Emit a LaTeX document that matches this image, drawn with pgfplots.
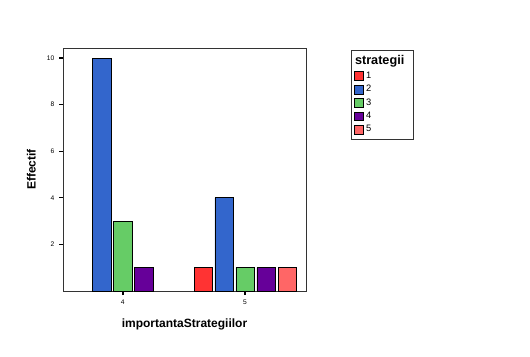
\documentclass[border=0pt]{standalone}
\usepackage{pgfplots}
\pgfplotsset{compat=1.18}
\usepackage{fontspec}
\setmainfont{Liberation Sans}
\definecolor{c1}{HTML}{FF3333}
\definecolor{c2}{HTML}{3366CC}
\definecolor{c3}{HTML}{66CC66}
\definecolor{c4}{HTML}{660099}
\definecolor{c5}{HTML}{FF6666}
\begin{document}
\begin{tikzpicture}
\useasboundingbox (0pt,0pt) rectangle (397.5pt,267pt);
\begin{axis}[
  at={(47.25pt,48.75pt)}, anchor=south west,
  scale only axis, width=182.25pt, height=182.25pt,
  xmin=-0.49, xmax=1.5, ymin=0, ymax=10.43,
  xtick={0,1}, xticklabels={4,5},
  ytick={2,4,6,8,10},
  tick align=outside, tick pos=left,
  major tick length=3pt,
  every tick/.style={black, line width=1pt},
  tick label style={font=\fontsize{5}{6}\selectfont},
  /pgf/number format/assume math mode=true,
  axis line style={black!80, line width=0.6pt},
  xlabel={\textbf{importantaStrategiilor}},
  ylabel={\textbf{Effectif}},
  label style={font=\fontsize{9}{10}\selectfont},
  xlabel style={at={(axis description cs:0.5,0)}, anchor=north, yshift=-17pt},
  ylabel style={at={(axis description cs:0,0.5)}, anchor=south, yshift=17pt},
  ybar, bar width=0.148,
  legend style={at={(axis description cs:1.185,0.992)}, anchor=north west,
    draw=black!80, line width=0.6pt, font=\fontsize{7}{8}\selectfont,
    row sep=-0.3pt, inner xsep=2pt, inner ysep=2pt, cells={anchor=west}},
  legend image code/.code={\draw[#1, draw=black, line width=0.4pt] (0pt,-3.3pt) rectangle (6.6pt,3.3pt);},
]
\addlegendimage{empty legend}
\addlegendentry{\hspace{-8.25pt}\makebox[40pt][l]{\fontsize{9.5}{10}\selectfont\textbf{strategii}}}
\addplot[fill=c1, draw=black, line width=0.5pt, bar shift=-0.344] coordinates {(1,1)};
\addlegendentry{1}
\addplot[fill=c2, draw=black, line width=0.5pt, bar shift=-0.172] coordinates {(0,10) (1,4)};
\addlegendentry{2}
\addplot[fill=c3, draw=black, line width=0.5pt, bar shift=0] coordinates {(0,3) (1,1)};
\addlegendentry{3}
\addplot[fill=c4, draw=black, line width=0.5pt, bar shift=0.172] coordinates {(0,1) (1,1)};
\addlegendentry{4}
\addplot[fill=c5, draw=black, line width=0.5pt, bar shift=0.344] coordinates {(1,1)};
\addlegendentry{5}
\node[anchor=west, font=\fontsize{6}{7}\selectfont] at (axis description cs:1.217,0.553) {Les bâtons montrent des effectifs};
\end{axis}
\end{tikzpicture}
\end{document}
